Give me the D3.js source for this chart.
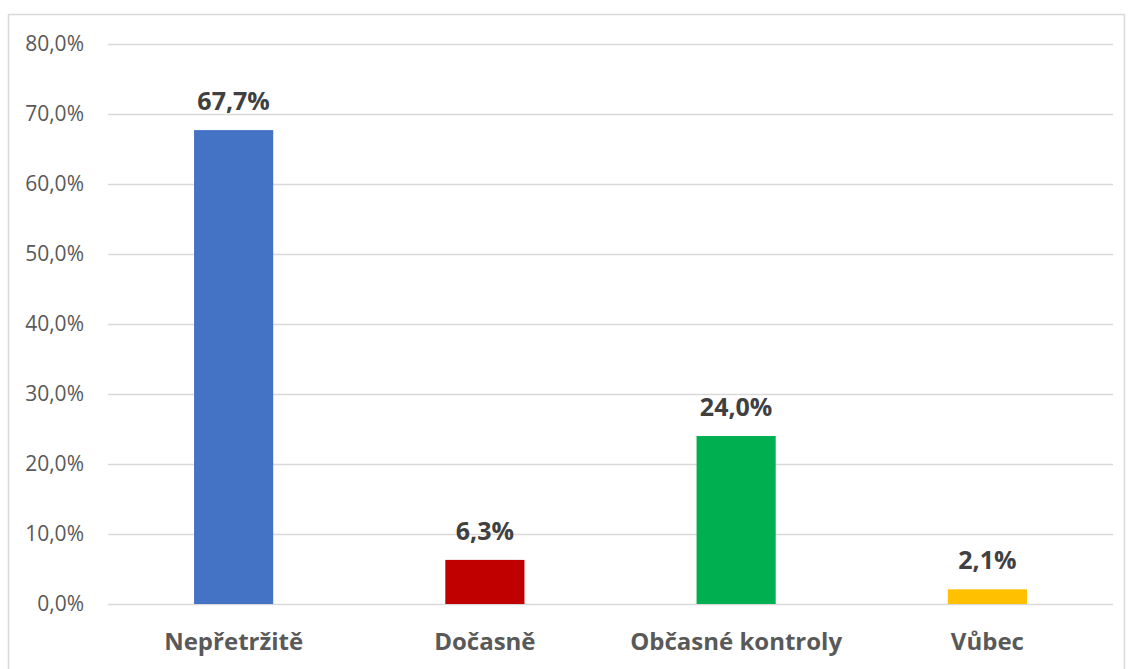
<!DOCTYPE html>
<html><head><meta charset="utf-8">
<script src="https://cdn.jsdelivr.net/npm/d3@7"></script>
<style>html,body{margin:0;padding:0;background:#fff;}svg{display:block;font-family:"Open Sans",sans-serif;}</style>
</head><body>
<script>
const categories = ["Nepřetržitě", "Dočasně", "Občasné kontroly", "Vůbec"];
const values = [67.7, 6.3, 24.0, 2.1];
const colors = ["#4472C4", "#C00000", "#00B050", "#FFC000"];
const yTicks = [0, 10, 20, 30, 40, 50, 60, 70, 80];

(function () {
const W = 1132, H = 669;
const FONT = '"Open Sans",sans-serif';
const svg = d3.select("body").append("svg").attr("width", W).attr("height", H);
svg.append("rect").attr("x", 8.5).attr("y", 14.5).attr("width", 1116).attr("height", 670)
  .attr("fill", "#fff").attr("stroke", "#d9d9d9").attr("stroke-width", 1.5);

const mLeft = 108, mRight = 1113, mTop = 44, mBottom = 604;
const x = d3.scaleBand().domain(categories).range([mLeft, mRight]).paddingInner(0).paddingOuter(0);
const y = d3.scaleLinear().domain([0, 80]).range([mBottom, mTop]);
const fmt = v => d3.format(".1f")(v).replace(".", ",");

const yAxis = d3.axisLeft(y).tickValues(yTicks).tickSize(-(mRight - mLeft)).tickFormat(d => fmt(d) + "%");
const gy = svg.append("g").attr("transform", `translate(${mLeft},0)`).call(yAxis);
gy.select(".domain").remove();
gy.selectAll(".tick line").attr("stroke", "#d9d9d9").attr("stroke-width", 1.5);
gy.selectAll(".tick text").attr("x", -24).attr("fill", "#595959").style("font-size", "21px").style("font-family", FONT);

const bw = x.bandwidth() * 0.315;
svg.selectAll("rect.bar").data(values).enter().append("rect").attr("class", "bar")
  .attr("x", (d, i) => x(categories[i]) + x.bandwidth() / 2 - bw / 2)
  .attr("width", bw)
  .attr("y", d => y(d))
  .attr("height", d => y(0) - y(d))
  .attr("fill", (d, i) => colors[i]);

svg.selectAll("text.val").data(values).enter().append("text").attr("class", "val")
  .attr("x", (d, i) => x(categories[i]) + x.bandwidth() / 2)
  .attr("y", d => y(d) - 20)
  .attr("text-anchor", "middle").attr("fill", "#404040")
  .style("font-size", "25px").style("font-weight", "bold").style("font-family", FONT)
  .text(d => fmt(d) + "%");

const xAxis = d3.axisBottom(x).tickSize(0).tickPadding(0);
const gx = svg.append("g").attr("transform", `translate(0,${mBottom})`).call(xAxis);
gx.select(".domain").remove();
gx.selectAll(".tick text").attr("y", 46).attr("dy", 0).attr("fill", "#595959")
  .style("font-size", "24px").style("font-weight", "bold").style("font-family", FONT);
})();
</script>
</body></html>
